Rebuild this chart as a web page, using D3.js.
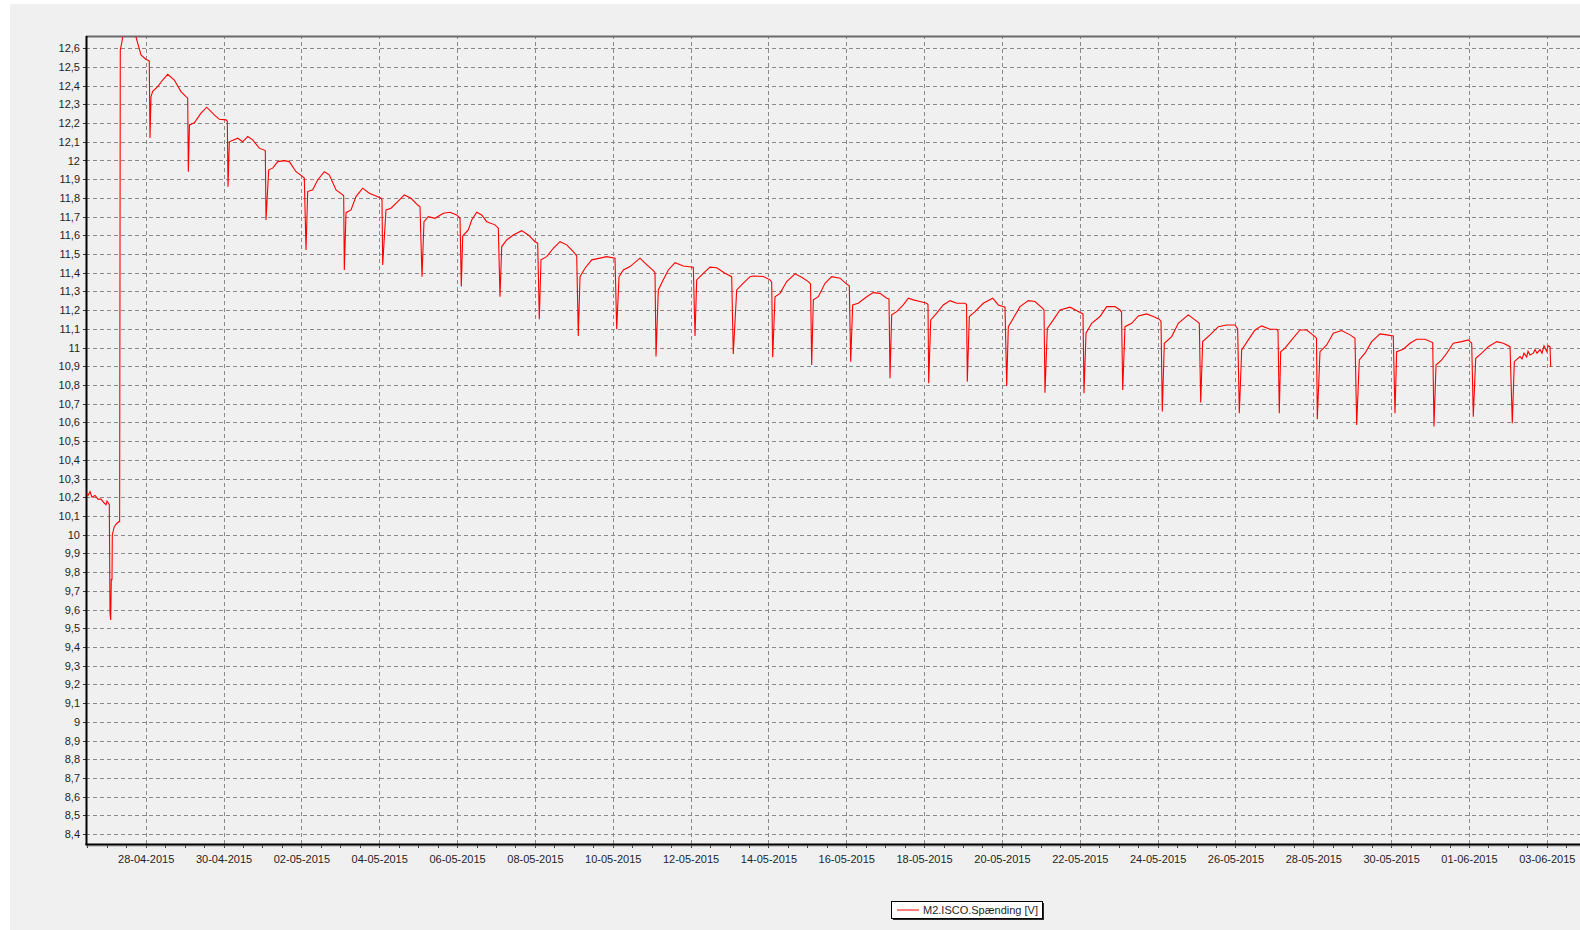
<!DOCTYPE html>
<html>
<head>
<meta charset="utf-8">
<script src="https://cdn.jsdelivr.net/npm/d3@7"></script>
<style>
    body { margin: 0; background: #fff; }
    svg text { font-family: "Liberation Sans", Arial, sans-serif; font-size: 11px; fill: #1e1e28; }
    .grid line { stroke: #8a8a8a; stroke-dasharray: 4 3; shape-rendering: crispEdges; }
    .grid path, .axis path { display: none; }
    .axis line { stroke: #333; shape-rendering: crispEdges; }
</style>
</head>
<body>
<svg id="chart" width="1580" height="930"></svg>
<script>
'use strict';

// Start of the period, days below are counted from here (UTC)
var startDato = Date.UTC(2015, 3, 26);

// Time in days since 26-04-2015 00:00, one row per daily cycle
var dage = [
    0.484, 0.517, 0.569, 0.620, 0.697, 0.774, 0.851, 0.929, 0.980, 1.006, 1.065,
    1.083, 1.100, 1.116, 1.134, 1.142, 1.193, 1.255, 1.314, 1.330,
    1.347, 1.383, 1.424, 1.597, 1.751, 1.879, 2.008, 2.076,
    2.092, 2.110, 2.136, 2.180, 2.308, 2.437, 2.565, 2.735, 2.907, 3.035, 3.079,
    3.095, 3.125, 3.249, 3.421, 3.567, 3.763, 3.891, 4.063, 4.097,
    4.115, 4.148, 4.364, 4.492, 4.621, 4.749, 4.919, 5.073,
    5.091, 5.160, 5.263, 5.392, 5.561, 5.690, 5.862, 6.034, 6.075,
    6.119, 6.162, 6.291, 6.419, 6.589, 6.717, 6.890, 7.062, 7.087,
    7.103, 7.147, 7.275, 7.403, 7.575, 7.745, 7.917, 8.046, 8.071,
    8.089, 8.174, 8.303, 8.475, 8.644, 8.817, 8.989, 9.048,
    9.099, 9.150, 9.261, 9.433, 9.647, 9.819, 9.991, 10.076,
    10.109, 10.145, 10.289, 10.376, 10.505, 10.633, 10.762, 10.975, 11.060,
    11.103, 11.147, 11.275, 11.445, 11.661, 11.830, 12.003, 12.072,
    12.113, 12.157, 12.303, 12.473, 12.645, 12.817, 12.987, 13.074,
    13.115, 13.159, 13.287, 13.460, 13.673, 13.845, 14.058,
    14.102, 14.161, 14.272, 14.444, 14.700, 14.829, 15.042, 15.086,
    15.112, 15.171, 15.299, 15.428, 15.600, 15.813, 16.070,
    16.114, 16.157, 16.327, 16.499, 16.671, 16.884, 17.056,
    17.097, 17.185, 17.355, 17.527, 17.612, 17.869, 18.041, 18.084,
    18.110, 18.169, 18.298, 18.470, 18.683, 18.855, 19.025, 19.082,
    19.112, 19.154, 19.282, 19.454, 19.626, 19.839, 20.011, 20.078,
    20.114, 20.165, 20.309, 20.525, 20.694, 20.867, 21.039, 21.098,
    21.124, 21.167, 21.296, 21.465, 21.594, 21.722, 21.895, 22.067, 22.100,
    22.118, 22.170, 22.324, 22.493, 22.666, 22.838, 23.051, 23.090,
    23.110, 23.162, 23.308, 23.521, 23.763, 23.907, 24.079,
    24.122, 24.164, 24.292, 24.464, 24.677, 24.849, 25.047, 25.081,
    25.106, 25.166, 25.320, 25.492, 25.749, 26.049, 26.083,
    26.108, 26.160, 26.306, 26.519, 26.692, 26.905, 27.033, 27.072,
    27.103, 27.162, 27.334, 27.504, 27.720, 27.889, 28.043, 28.087,
    28.120, 28.172, 28.362, 28.531, 28.788, 28.960, 29.071,
    29.107, 29.158, 29.346, 29.559, 29.775, 29.988, 30.057,
    30.099, 30.160, 30.330, 30.502, 30.674, 30.887, 31.059, 31.093,
    31.126, 31.162, 31.273, 31.445, 31.658, 31.830, 32.044, 32.082,
    32.103, 32.172, 32.344, 32.514, 32.729, 32.943, 33.071,
    33.115, 33.182, 33.328, 33.500, 33.714, 33.886, 34.055,
    34.099, 34.142, 34.312, 34.484, 34.656, 34.870, 35.068,
    35.101, 35.153, 35.299, 35.428, 35.597, 35.813, 35.983, 36.070,
    36.111, 36.173, 36.327, 36.497, 36.713, 36.883, 37.055,
    37.113, 37.165, 37.311, 37.363, 37.414, 37.483, 37.517, 37.568, 37.653,
    37.697, 37.748, 37.825, 37.877, 37.928, 37.997, 38.031, 38.082, 38.100
];

// Voltage [V], same rows as above
var volt = [
    10.222, 10.21, 10.23, 10.20, 10.21, 10.19, 10.19, 10.17, 10.16, 10.18, 10.16,
    9.58, 9.544, 9.76, 9.76, 10.0, 10.043, 10.06, 10.07, 10.07,
    12.59, 12.627, 12.68, 12.69, 12.66, 12.564, 12.54, 12.534,
    12.53, 12.12, 12.341, 12.37, 12.395, 12.43, 12.461, 12.43, 12.368, 12.341, 12.333,
    11.94, 12.19, 12.202, 12.253, 12.285, 12.244, 12.22, 12.217, 12.21,
    11.86, 12.10, 12.119, 12.10, 12.128, 12.11, 12.066, 12.053,
    11.682, 11.95, 11.959, 11.994, 11.999, 11.994, 11.94, 11.914, 11.906,
    11.522, 11.834, 11.843, 11.896, 11.94, 11.923, 11.843, 11.816, 11.81,
    11.415, 11.721, 11.736, 11.807, 11.852, 11.825, 11.81, 11.798, 11.79,
    11.442, 11.736, 11.745, 11.78, 11.816, 11.798, 11.762, 11.753,
    11.379, 11.673, 11.70, 11.691, 11.718, 11.723, 11.709, 11.691,
    11.326, 11.596, 11.629, 11.682, 11.723, 11.709, 11.673, 11.656, 11.638,
    11.272, 11.54, 11.575, 11.602, 11.625, 11.602, 11.566, 11.558,
    11.152, 11.469, 11.486, 11.531, 11.566, 11.549, 11.513, 11.49,
    11.062, 11.379, 11.424, 11.469, 11.478, 11.486, 11.478,
    11.098, 11.379, 11.415, 11.433, 11.478, 11.451, 11.411, 11.40,
    10.952, 11.308, 11.362, 11.415, 11.454, 11.436, 11.43,
    11.062, 11.362, 11.397, 11.43, 11.427, 11.397, 11.379,
    10.966, 11.308, 11.344, 11.379, 11.383, 11.38, 11.362, 11.35,
    10.949, 11.272, 11.29, 11.353, 11.394, 11.376, 11.353, 11.34,
    10.907, 11.255, 11.272, 11.344, 11.379, 11.371, 11.339, 11.33,
    10.925, 11.228, 11.237, 11.272, 11.294, 11.29, 11.264, 11.26,
    10.836, 11.175, 11.192, 11.228, 11.264, 11.255, 11.246, 11.237, 11.23,
    10.809, 11.148, 11.184, 11.228, 11.251, 11.237, 11.237, 11.23,
    10.818, 11.166, 11.192, 11.237, 11.264, 11.228, 11.216,
    10.795, 11.112, 11.157, 11.219, 11.251, 11.246, 11.21, 11.20,
    10.759, 11.103, 11.148, 11.201, 11.216, 11.184, 11.18,
    10.756, 11.077, 11.13, 11.166, 11.219, 11.219, 11.201, 11.19,
    10.774, 11.112, 11.13, 11.169, 11.18, 11.166, 11.152, 11.14,
    10.658, 11.023, 11.059, 11.13, 11.175, 11.148, 11.13,
    10.706, 11.032, 11.068, 11.112, 11.121, 11.121, 11.10,
    10.649, 10.988, 11.041, 11.094, 11.116, 11.098, 11.098, 11.09,
    10.649, 10.978, 10.997, 11.041, 11.094, 11.094, 11.059, 11.05,
    10.617, 10.978, 11.014, 11.077, 11.091, 11.068, 11.05,
    10.587, 10.934, 10.97, 11.032, 11.073, 11.068, 11.062,
    10.649, 10.978, 10.991, 11.023, 11.045, 11.045, 11.027,
    10.578, 10.907, 10.934, 10.97, 11.023, 11.032, 11.041, 11.023,
    10.631, 10.943, 10.97, 11.005, 11.032, 11.023, 11.005,
    10.596, 10.925, 10.952, 10.94, 10.97, 10.95, 10.98, 10.96, 10.97,
    10.99, 10.97, 10.99, 10.97, 11.01, 10.98, 11.01, 11.005, 10.898
];

var datoEtiketter = [
    '28-04-2015', '30-04-2015', '02-05-2015', '04-05-2015', '06-05-2015',
    '08-05-2015', '10-05-2015', '12-05-2015', '14-05-2015', '16-05-2015',
    '18-05-2015', '20-05-2015', '22-05-2015', '24-05-2015', '26-05-2015',
    '28-05-2015', '30-05-2015', '01-06-2015', '03-06-2015'
];

var voltTicks = d3.range(84, 127).map(function (d) { return d / 10; });

var serieNavn = 'M2.ISCO.Spænding [V]';

function spaendingChart() {
    var margin = { top: 37, right: -2, bottom: 86, left: 86 };
    var width = 1580 - margin.left - margin.right;
    var height = 930 - margin.top - margin.bottom;
    var svg = d3.select('#chart');
    var scales = {};
    var dag = 864e5;
    var parseDato = d3.utcParse('%d-%m-%Y');

    var data = d3.zip(dage, volt).map(function (d) {
        return { tid: new Date(startDato + d[0] * dag), v: d[1] };
    });

    function setupScales() {
        scales.x = d3.scaleUtc()
            .domain([new Date(startDato + 0.466 * dag), new Date(startDato + 38.904 * dag)])
            .range([0, width]);
        scales.y = d3.scaleLinear().domain([8.347, 12.66]).range([height, 0]);
    }

    function fmtVolt(d) {
        return (Math.round(d * 10) / 10).toString().replace('.', ',');
    }

    function drawBackground() {
        svg.append('rect').attr('x', 10).attr('y', 4)
            .attr('width', 1570).attr('height', 926).attr('fill', '#f0f0f0');
    }

    function drawAxes(g) {
        var datoTicks = datoEtiketter.map(parseDato);

        // gridlines
        g.append('g').attr('class', 'grid')
            .call(d3.axisLeft(scales.y).tickValues(voltTicks).tickSize(-width).tickFormat(''));
        g.append('g').attr('class', 'grid')
            .attr('transform', 'translate(0,' + height + ')')
            .call(d3.axisBottom(scales.x).tickValues(datoTicks).tickSize(-height).tickFormat(''));

        // small ticks every 12 hours
        var halvDage = d3.utcHour.every(12).range(scales.x.domain()[0], scales.x.domain()[1]);
        g.append('g').attr('class', 'axis')
            .attr('transform', 'translate(0,' + height + ')')
            .call(d3.axisBottom(scales.x).tickValues(halvDage).tickSize(4).tickFormat(''));

        g.append('g').attr('class', 'axis axis-x')
            .attr('transform', 'translate(0,' + height + ')')
            .call(d3.axisBottom(scales.x).tickValues(datoTicks).tickSize(4).tickPadding(7)
                .tickFormat(d3.utcFormat('%d-%m-%Y')));

        g.append('g').attr('class', 'axis axis-y')
            .call(d3.axisLeft(scales.y).tickValues(voltTicks).tickSize(3).tickPadding(3)
                .tickFormat(fmtVolt));

        // frame
        g.append('line').attr('x1', 0).attr('x2', width + 4).attr('y1', -0.5).attr('y2', -0.5)
            .attr('stroke', '#6a6a6a').attr('stroke-width', 2);
        g.append('line').attr('x1', 0).attr('x2', width + 4).attr('y1', height + 2).attr('y2', height + 2)
            .attr('stroke', '#a0a0a0').attr('stroke-width', 1);
        g.append('line').attr('x1', -0.5).attr('x2', width + 4).attr('y1', height + 0.5).attr('y2', height + 0.5)
            .attr('stroke', '#000').attr('stroke-width', 2);
        g.append('line').attr('x1', 0.5).attr('x2', 0.5).attr('y1', -1).attr('y2', height + 1)
            .attr('stroke', '#000').attr('stroke-width', 2);
    }

    function drawLine(g) {
        g.append('clipPath').attr('id', 'plot-clip')
            .append('rect').attr('width', width).attr('height', height);

        var linje = d3.line()
            .x(function (d) { return scales.x(d.tid); })
            .y(function (d) { return scales.y(d.v); });

        g.append('path').datum(data)
            .attr('clip-path', 'url(#plot-clip)')
            .attr('fill', 'none')
            .attr('stroke', '#ff0000')
            .attr('stroke-width', 1.1)
            .attr('stroke-linejoin', 'miter')
            .attr('d', linje);
    }

    function drawLegend() {
        var lg = svg.append('g').attr('transform', 'translate(891,901)');
        lg.append('rect').attr('x', 2).attr('y', 2).attr('width', 151).attr('height', 17).attr('fill', '#2a2a2a');
        lg.append('rect').attr('x', 0.5).attr('y', 0.5).attr('width', 151).attr('height', 17)
            .attr('fill', '#fff').attr('stroke', '#000');
        lg.append('line').attr('x1', 6).attr('x2', 28).attr('y1', 9).attr('y2', 9)
            .attr('stroke', '#ff7f7f').attr('stroke-width', 2);
        lg.append('text').attr('x', 32).attr('y', 13).text(serieNavn);
    }

    function updateChart() {
        drawBackground();
        var g = svg.append('g')
            .attr('transform', 'translate(' + margin.left + ',' + margin.top + ')');
        drawAxes(g);
        drawLine(g);
        drawLegend();
    }

    setupScales();
    updateChart();
}

spaendingChart();
</script>
</body>
</html>
